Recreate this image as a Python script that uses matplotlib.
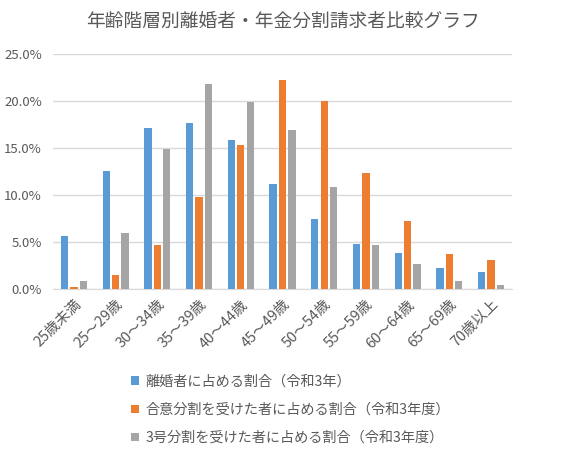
import numpy as np
import matplotlib
matplotlib.use('Agg')
import matplotlib.pyplot as plt
from matplotlib.ticker import PercentFormatter

plt.rcParams['font.family'] = ['Noto Sans CJK JP', 'DejaVu Sans']

# age groups and shares (%)
categories = ['25歳未満', '25～29歳', '30～34歳', '35～39歳', '40～44歳', '45～49歳',
              '50～54歳', '55～59歳', '60～64歳', '65～69歳', '70歳以上']
divorced = [5.7, 12.6, 17.2, 17.7, 15.9, 11.2, 7.5, 4.8, 3.8, 2.2, 1.8]
agreed_split = [0.2, 1.5, 4.7, 9.8, 15.4, 22.3, 20.0, 12.4, 7.2, 3.7, 3.1]
no3_split = [0.9, 6.0, 14.9, 21.9, 19.9, 16.9, 10.9, 4.7, 2.7, 0.9, 0.4]
series_labels = ['離婚者に占める割合（令和3年）',
                 '合意分割を受けた者に占める割合（令和3年度）',
                 '3号分割を受けた者に占める割合（令和3年度）']
colors = ['#5B9BD5', '#ED7D31', '#A5A5A5']
text_color = '#595959'

fig = plt.figure(figsize=(5.65, 4.54), dpi=100)
ax = fig.add_axes([0.094, 0.3634, 0.812, 0.5166])

x = np.arange(len(categories))
width = 0.175
step = 0.225
for i, (vals, lab, col) in enumerate(zip([divorced, agreed_split, no3_split], series_labels, colors)):
    ax.bar(x + (i - 1) * step, vals, width, color=col, label=lab, zorder=3)

ax.set_xlim(-0.5, len(categories) - 0.5)
ax.set_ylim(0, 25)
ax.set_yticks(np.arange(0, 26, 5))
ax.yaxis.set_major_formatter(PercentFormatter(decimals=1))
ax.set_xticks(x)
ax.set_xticklabels(categories, rotation=45, ha='right', rotation_mode='anchor')
ax.tick_params(axis='x', length=0, colors=text_color, labelsize=10.5, pad=6)
ax.tick_params(axis='y', length=0, colors=text_color, labelsize=9.5, pad=8)
ax.grid(axis='y', color='#D9D9D9', linewidth=1, zorder=0)
for s in ['top', 'right', 'left']:
    ax.spines[s].set_visible(False)
ax.spines['bottom'].set_color('#D9D9D9')

fig.text(0.5, 0.952, '年齢階層別離婚者・年金分割請求者比較グラフ', ha='center', va='center',
         fontsize=13.5, color=text_color)

fig.legend(loc='upper left', bbox_to_anchor=(0.222, 0.187), frameon=False,
           fontsize=10.2, labelcolor=text_color, handlelength=0.55, handleheight=0.55,
           handletextpad=0.45, labelspacing=1.0, borderaxespad=0)

fig.savefig('out.png', dpi=100)
